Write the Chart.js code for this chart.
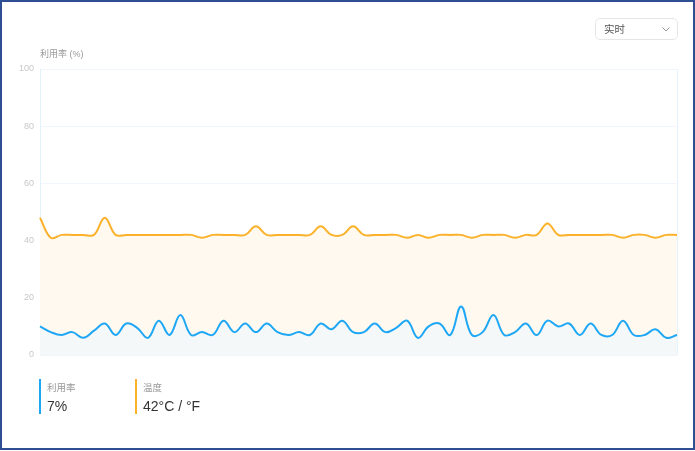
<!DOCTYPE html>
<html lang="zh">
<head>
  <meta charset="UTF-8">
  <title>利用率 / 温度</title>
  <script src="https://cdn.jsdelivr.net/npm/chart.js"></script>
  <style>
    html, body { margin: 0; padding: 0; background: #fff; }
    body { width: 695px; height: 451px; position: relative; overflow: hidden;
           font-family: 'Liberation Sans', 'Noto Sans CJK SC', sans-serif; }
    #frame { position: absolute; left: 0; top: 0; width: 695px; height: 450px;
             box-sizing: border-box; border: 2px solid #2f4f93; }
    #chart { position: absolute; left: 0; top: 0; }
    .axis-title { position: absolute; left: 40px; top: 47px; font-size: 9px; color: #999; }
    .select { position: absolute; left: 595px; top: 18px; width: 83px; height: 22px;
              box-sizing: border-box; border: 1px solid #e6e6e6; border-radius: 5px;
              font-size: 10.5px; color: #555; line-height: 20px; padding-left: 8px; }
    .select svg { position: absolute; right: 7px; top: 8px; }
    .legend { position: absolute; top: 379px; height: 35px; border-left: 2px solid; padding-left: 6px; }
    .legend .lbl { font-size: 9.5px; color: #999; margin-top: 1px; }
    .legend .val { font-size: 14px; color: #333; margin-top: 4px; }
  </style>
</head>
<body>
<div id="frame"></div>
<canvas id="chart" width="695" height="451"></canvas>
<div class="axis-title">利用率 (%)</div>
<div class="select">实时
  <svg width="8" height="5" viewBox="0 0 8 5"><path d="M0.5 0.5 L4 4 L7.5 0.5" fill="none" stroke="#999" stroke-width="1"/></svg>
</div>
<div class="legend" style="left:39px; border-color:#1ea7f5;">
  <div class="lbl">利用率</div>
  <div class="val">7%</div>
</div>
<div class="legend" style="left:135px; border-color:#fbb12a;">
  <div class="lbl">温度</div>
  <div class="val">42°C / °F</div>
</div>

<script>
  // 60 个采样点
  const labels = Array.from({ length: 60 }, (_, i) => String(i + 1));

  const usage = [
    10, 8, 7, 8, 6, 8.5, 11, 7, 11, 9.5,
    6, 12, 7, 14, 7, 8, 7, 12, 8, 11,
    8, 11, 8, 7, 8, 7, 11, 9, 12, 8,
    8, 11, 8, 9.5, 12, 6, 10, 11, 7, 17,
    7, 8, 14, 7, 8, 11, 7, 12, 10, 11,
    7, 11, 7, 7, 12, 7, 7, 9, 6, 7
  ];

  const temperature = [
    48, 41, 42, 42, 42, 42, 48, 42, 42, 42,
    42, 42, 42, 42, 42, 41, 42, 42, 42, 42,
    45, 42, 42, 42, 42, 42, 45, 42, 42, 45,
    42, 42, 42, 42, 41, 42, 41, 42, 42, 42,
    41, 42, 42, 42, 41, 42, 42, 46, 42, 42,
    42, 42, 42, 42, 41, 42, 42, 41, 42, 42
  ];

  const yTicks = [0, 20, 40, 60, 80, 100];

  const ctx = document.getElementById('chart').getContext('2d');

  new Chart(ctx, {
    type: 'line',
    data: {
      labels: labels,
      datasets: [
        {
          label: '利用率',
          data: usage,
          borderColor: '#1ea7f5',
          backgroundColor: '#f5f8f9',
          borderWidth: 2,
          fill: 'origin',
          tension: 0.4,
          pointRadius: 0,
          order: 1
        },
        {
          label: '温度',
          data: temperature,
          borderColor: '#fbb12a',
          backgroundColor: '#fff9ef',
          borderWidth: 2,
          fill: 'origin',
          tension: 0.4,
          pointRadius: 0,
          order: 2
        }
      ]
    },
    options: {
      responsive: false,
      animation: false,
      layout: { padding: { left: 0, top: 69, right: 18, bottom: 96 } },
      plugins: {
        legend: { display: false },
        tooltip: { enabled: false }
      },
      scales: {
        x: {
          ticks: { display: false, autoSkip: false },
          grid: {
            drawTicks: false,
            color: c => (c.index === 0 || c.index === labels.length - 1) ? '#e6f3fc' : 'transparent'
          },
          border: { display: false },
          afterFit: s => { s.height = 0; }
        },
        y: {
          min: 0,
          max: 100,
          afterBuildTicks: s => { s.ticks = yTicks.map(v => ({ value: v })); },
          ticks: {
            color: '#c8c8c8',
            padding: 6,
            font: { family: "'Liberation Sans', sans-serif", size: 9 }
          },
          grid: { color: '#f0f6fb', drawTicks: false },
          border: { color: '#e3f1fb' },
          afterFit: s => { s.width = 40; }
        }
      }
    }
  });
</script>
</body>
</html>
